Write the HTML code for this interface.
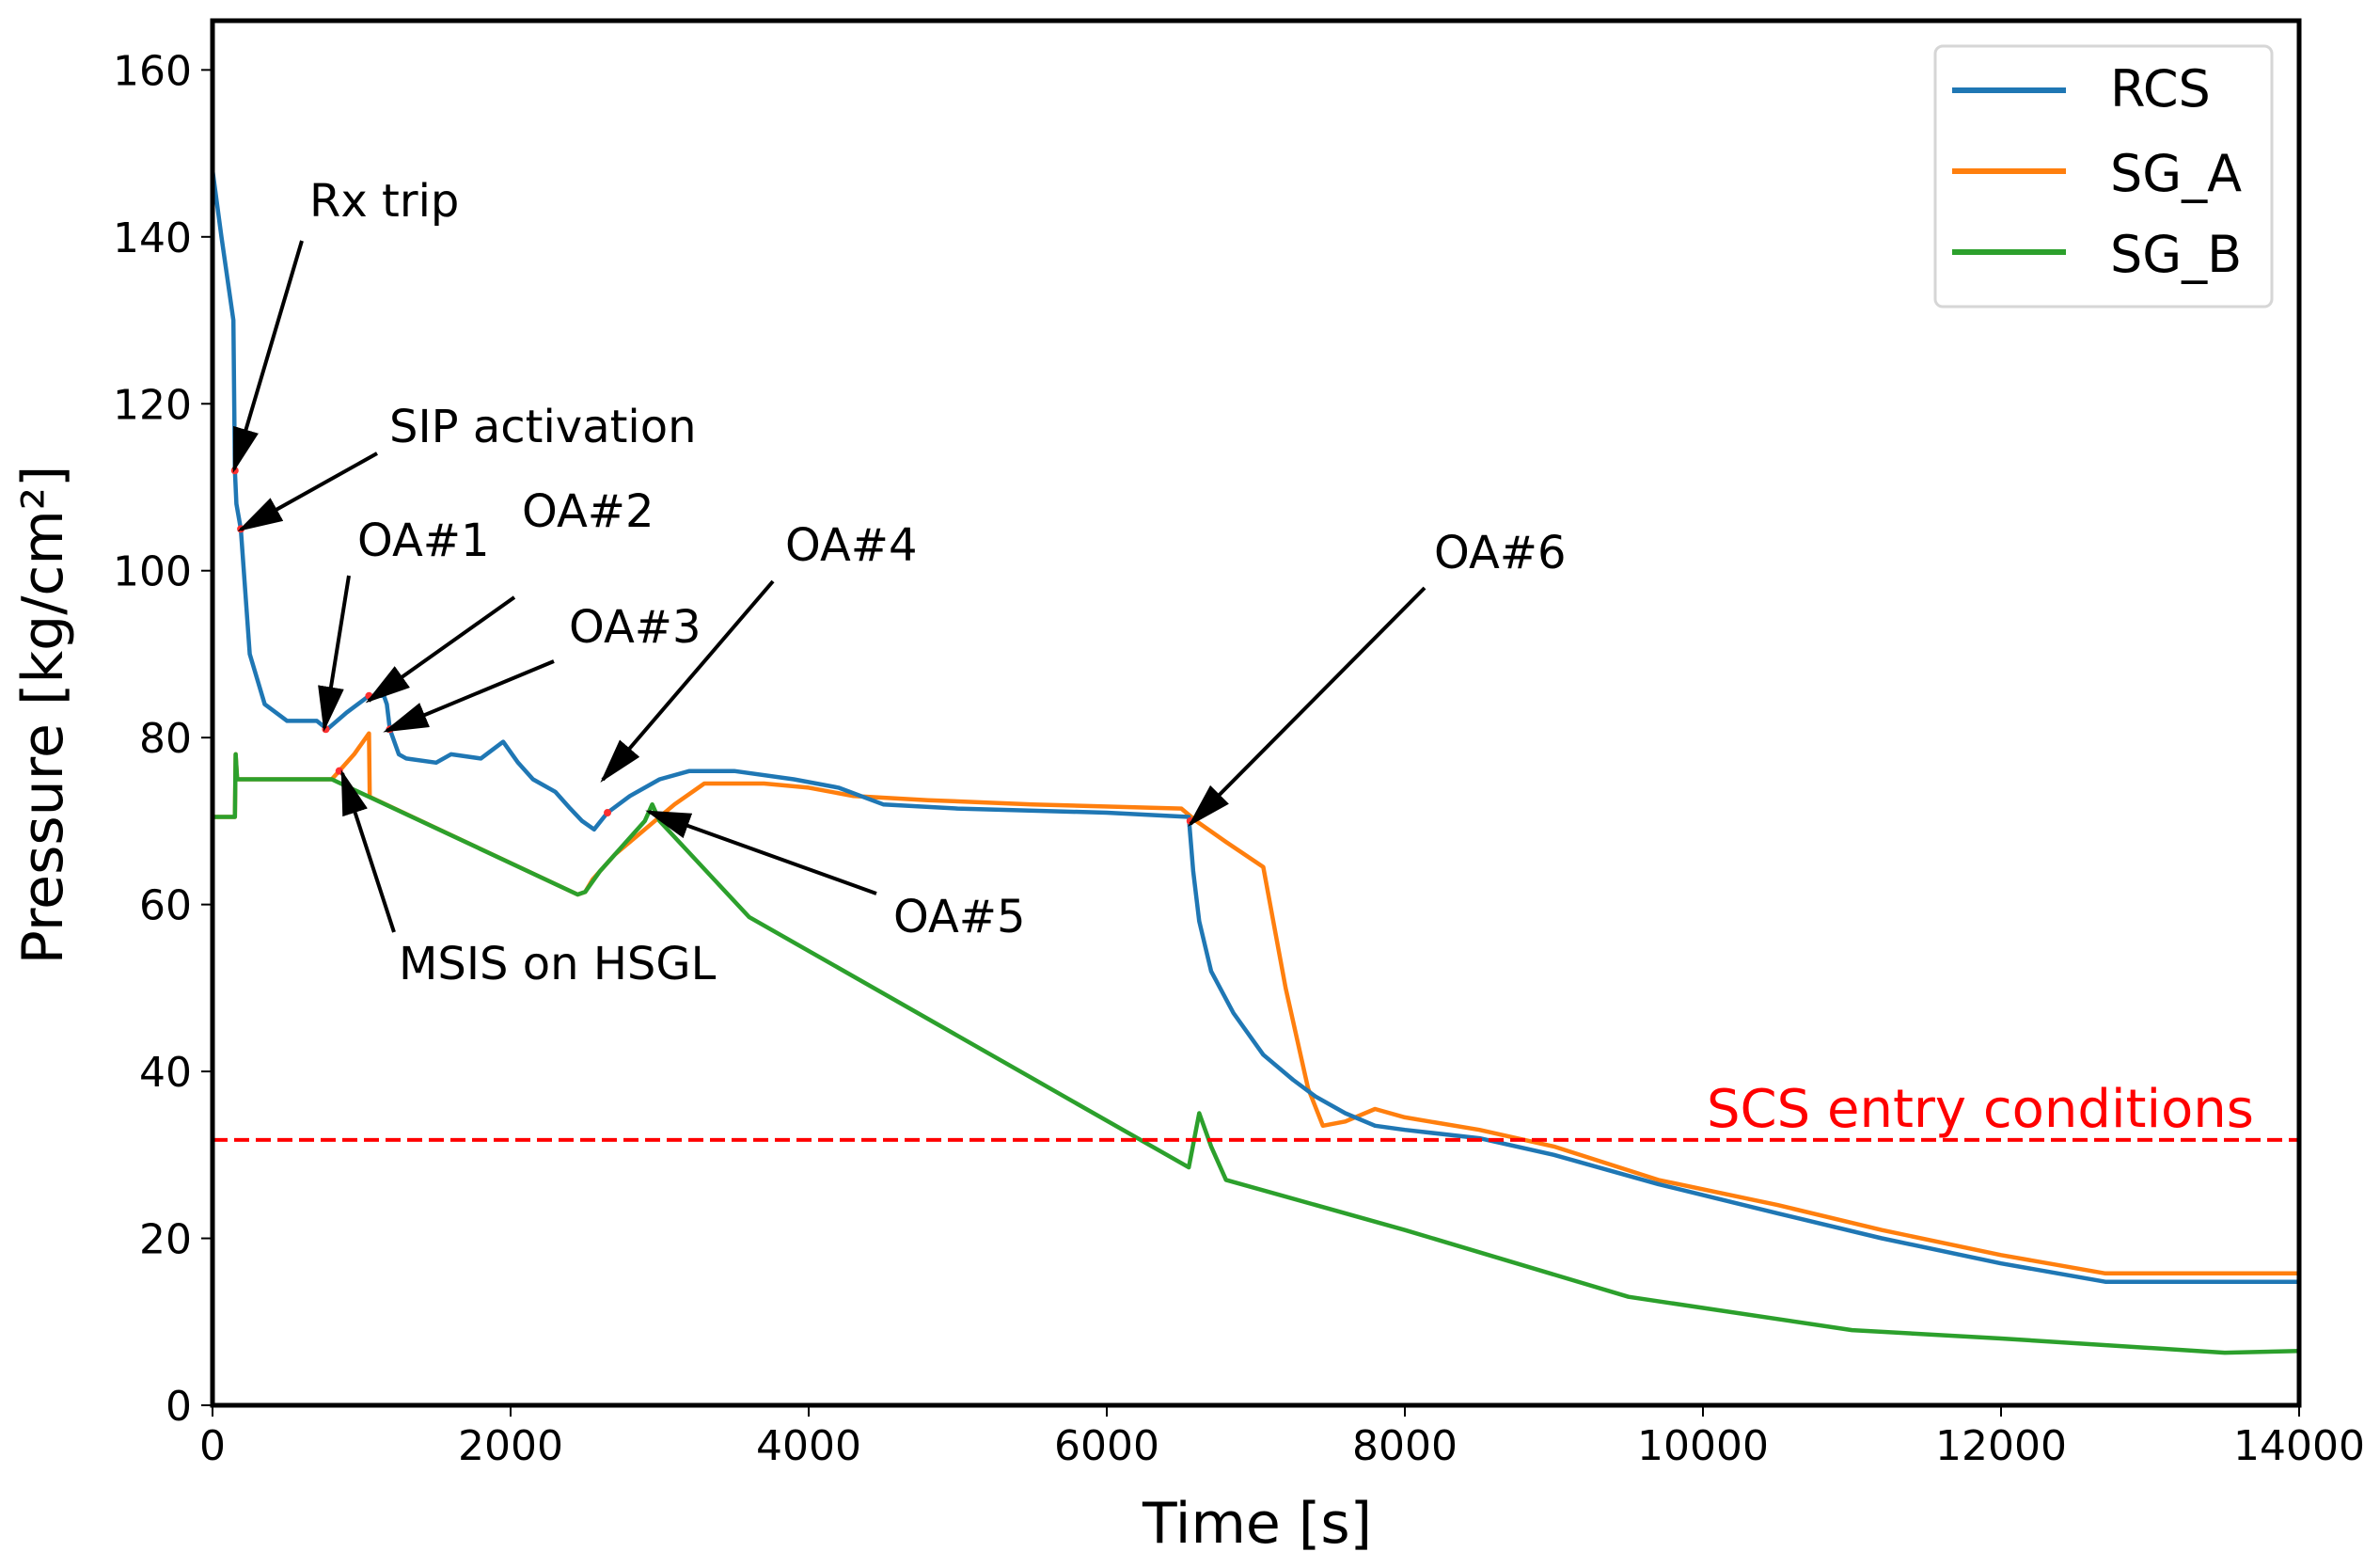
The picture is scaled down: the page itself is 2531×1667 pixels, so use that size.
<!DOCTYPE html>
<html><head><meta charset="utf-8">
<style>
html,body{margin:0;padding:0;background:#fff;}
svg{display:block;font-family:"DejaVu Sans","Liberation Sans",sans-serif;}
</style></head>
<body>
<svg id="chart" width="2531" height="1667" viewBox="0 0 2531 1667" xmlns="http://www.w3.org/2000/svg">
<defs>
<marker id="ah" markerWidth="12" markerHeight="7" refX="11" refY="3.5" orient="auto" markerUnits="strokeWidth">
<path d="M0,0 L12,3.5 L0,7 Z" fill="#000"/>
</marker>
<clipPath id="plotclip"><rect x="226" y="22" width="2219" height="1472"/></clipPath>
</defs>
<rect x="0" y="0" width="2531" height="1667" fill="#fff"/>
<g id="series-layer" clip-path="url(#plotclip)"></g>
<g id="ann-layer"></g>
<rect x="226" y="22" width="2219" height="1472" fill="none" stroke="#000" stroke-width="5"/>
<g id="tick-layer"></g>
<text x="1337" y="1640" font-size="60" text-anchor="middle">Time [s]</text>
<text transform="translate(66,760) rotate(-90)" font-size="60" text-anchor="middle">Pressure [kg/cm²]</text>
<g>
<rect x="2058" y="49" width="358" height="277" rx="8" fill="#fff" stroke="#d6d6d6" stroke-width="3"/>
<line x1="2076" y1="96" x2="2197" y2="96" stroke="#1f77b4" stroke-width="6"/>
<text x="2244" y="113" font-size="54">RCS</text>
<line x1="2076" y1="182" x2="2197" y2="182" stroke="#ff7f0e" stroke-width="6"/>
<text x="2244" y="203" font-size="54">SG_A</text>
<line x1="2076" y1="268" x2="2197" y2="268" stroke="#2ca02c" stroke-width="6"/>
<text x="2244" y="289" font-size="54">SG_B</text>
</g>
</svg>
<script>
const xTicks = [0,2000,4000,6000,8000,10000,12000,14000];
const yTicks = [0,20,40,60,80,100,120,140,160];
const rcsT = [0,60,140,150,160,190,250,350,500,700,770,900,1050,1150,1170,1190,1250,1300,1500,1600,1800,1950,2050,2150,2300,2400,2480,2560,2650,2800,3000,3200,3500,3900,4200,4500,5000,6000,6550,6580,6620,6700,6850,7050,7250,7400,7600,7800,8000,8500,9000,9700,10500,11200,12000,12700,14000];
const rcsP = [148,140,130,112,108,105,90,84,82,82,81,83,85,85,84,81,78,77.5,77,78,77.5,79.5,77,75,73.5,71.5,70,69,71,73,75,76,76,75,74,72,71.5,71,70.5,64,58,52,47,42,39,37,35,33.5,33,32,30,26.5,23,20,17,14.8,14.8];
const sgaT = [0,150,155,165,800,850,950,1050,1055,2450,2500,2550,2700,2900,3100,3300,3700,4000,4300,4800,5500,6500,6600,6800,7050,7200,7350,7450,7600,7800,8000,8500,9000,9700,10500,11200,12000,12700,14000];
const sgaP = [70.5,70.5,78,75,75,76,78,80.5,72.9,61.2,61.5,63,66,69,72,74.5,74.5,74,73,72.5,72,71.5,70,67.5,64.5,50,38,33.5,34,35.5,34.5,33,31,27,24,21,18,15.8,15.8];
const sgbT = [0,150,155,165,800,2450,2500,2600,2900,2950,3000,3600,6550,6620,6700,6800,8000,9500,11000,12000,13500,14000];
const sgbP = [70.5,70.5,78,75,75,61.2,61.5,64,70,72,70,58.5,28.5,35,31,27,21,13,9,8,6.3,6.5];
const scsLevel = 31.8;
const markT = [150,190,760,1050,1190,850,2650,6560];
const markP = [112,105,81,85,81,76,71,70];

const X0=226, X1=2445, Y0=1494, Y1=22, XMAX=14000, YMAX=165.9;
function sx(v){return X0+(v/XMAX)*(X1-X0);}
function sy(v){return Y0-(v/YMAX)*(Y0-Y1);}
const NS="http://www.w3.org/2000/svg";
const ticks=document.getElementById('tick-layer');
const series=document.getElementById('series-layer');
const ann=document.getElementById('ann-layer');
function mk(tag,attrs,parent){const e=document.createElementNS(NS,tag);for(const k in attrs)e.setAttribute(k,attrs[k]);parent.appendChild(e);return e;}

xTicks.forEach(v=>{
  const l=mk('line',{x1:sx(v),x2:sx(v),y1:Y0,y2:Y0+12,stroke:'#000','stroke-width':2},ticks);
  
  
  const t=mk('text',{x:sx(v),y:Y0+58,'font-size':44,'text-anchor':'middle'},ticks);
  t.textContent=v;
  
  
});
yTicks.forEach(v=>{
  const l=mk('line',{x1:X0-12,x2:X0,y1:sy(v),y2:sy(v),stroke:'#000','stroke-width':2},ticks);
  
  
  const t=mk('text',{x:X0-22,y:sy(v)+16,'font-size':44,'text-anchor':'end'},ticks);
  t.textContent=v;
  
  
});

function line(T,P,color,name){
  const d=T.map((t,i)=>(i?'L':'M')+sx(t).toFixed(1)+','+sy(P[i]).toFixed(1)).join(' ');
  const p=mk('path',{d:d,fill:'none',stroke:color,'stroke-width':4.5,'stroke-linejoin':'round'},series);
  
  
}
line(sgaT,sgaP,'#ff7f0e','sg-a-line');
line(sgbT,sgbP,'#2ca02c','sg-b-line');
line(rcsT,rcsP,'#1f77b4','rcs-line');

const scs=mk('line',{x1:X0,x2:X1,y1:sy(scsLevel),y2:sy(scsLevel),stroke:'#ff0000','stroke-width':4,'stroke-dasharray':'16,7'},series);



markT.forEach((t,i)=>{
  const c=mk('circle',{cx:sx(t),cy:sy(markP[i]),r:4,fill:'#ff3030'},series);
  
  
});

const anns=[
 ['Rx trip',329,230,321,256,249,499],
 ['SIP activation',414,470,401,482,256,563],
 ['OA#1',380,591,371,612,345,774],
 ['OA#2',555,560,547,635,392,745],
 ['OA#3',605,683,589,703,411,777],
 ['OA#4',835,596,822,618,641,829],
 ['OA#5',950,991,932,950,690,863],
 ['OA#6',1525,604,1515,625,1266,876],
 ['MSIS on HSGL',424,1041,419,991,364,822]
];
anns.forEach(a=>{
  const l=mk('line',{x1:a[3],y1:a[4],x2:a[5],y2:a[6],stroke:'#000','stroke-width':4,'marker-end':'url(#ah)'},ann);
  
  
  const t=mk('text',{x:a[1],y:a[2],'font-size':48},ann);
  t.textContent=a[0];
  
  
});
const st=mk('text',{x:1815,y:1198,'font-size':56,fill:'#ff0000'},ann);
st.textContent='SCS entry conditions';


</script>
</body></html>
